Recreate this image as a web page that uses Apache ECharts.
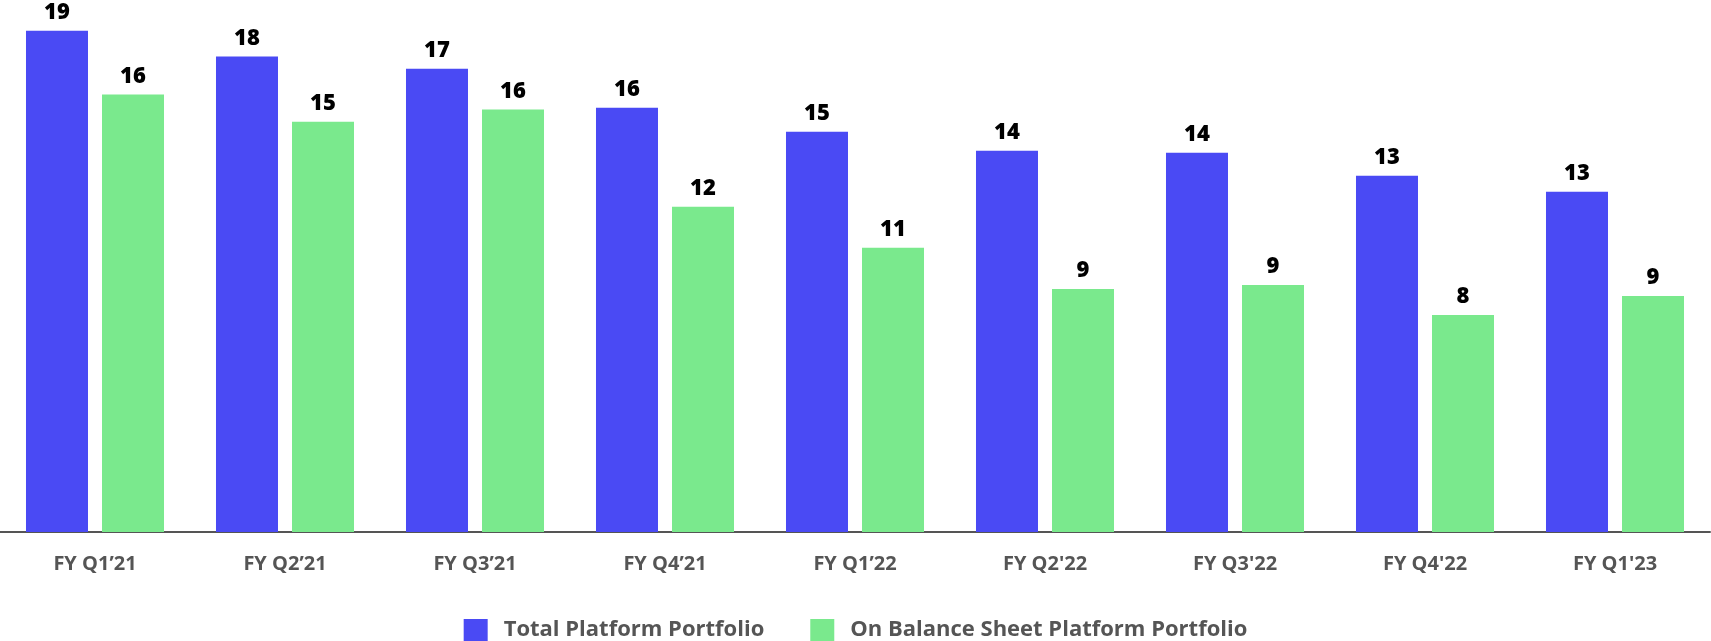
<!DOCTYPE html>
<html>
<head>
<meta charset="utf-8">
<script src="https://cdn.jsdelivr.net/npm/echarts@6/dist/echarts.min.js"></script>
<style>
html,body{margin:0;padding:0;background:#fff;}
#chart{width:1711px;height:641px;}
</style>
</head>
<body>
<div id="chart"></div>
<script>
const categories = ["FY Q1\u201921","FY Q2\u201921","FY Q3\u201921","FY Q4\u201921","FY Q1\u201922","FY Q2'22","FY Q3'22","FY Q4'22","FY Q1'23"];
const totalPlatform = [18.73, 17.76, 17.31, 15.85, 14.95, 14.24, 14.17, 13.31, 12.71];
const onBalanceSheet = [16.34, 15.33, 15.78, 12.15, 10.62, 9.08, 9.23, 8.11, 8.82];
const seriesNames = ["Total Platform Portfolio", "On Balance Sheet Platform Portfolio"];

const FONT = "'Open Sans', Lato, sans-serif";
const chart = echarts.init(document.getElementById('chart'), null, {renderer:'canvas'});
const labelCfg = {
  show: true,
  position: 'top',
  distance: 7,
  color: '#000',
  fontFamily: FONT,
  fontWeight: 800,
  fontSize: 22,
  formatter: p => Math.round(p.value)
};
chart.setOption({
  animation: false,
  grid: {left: 0, right: 1, top: 2, bottom: 109, containLabel: false},
  legend: {
    data: seriesNames,
    left: 'center',
    top: 614,
    itemWidth: 24,
    itemHeight: 22,
    itemGap: 46,
    icon: 'rect',
    textStyle: {color: '#555', fontFamily: FONT, fontWeight: 700, fontSize: 22, padding: [0,0,0,11]}
  },
  xAxis: {
    type: 'category',
    data: categories,
    axisLine: {show: true, lineStyle: {color: '#555', width: 2}},
    axisTick: {show: false},
    axisLabel: {color: '#555', fontFamily: FONT, fontWeight: 700, fontSize: 20, margin: 22}
  },
  yAxis: {
    type: 'value',
    min: 0,
    max: 19.8,
    show: false,
    splitLine: {show: false}
  },
  series: [
    {name: seriesNames[0], type: 'bar', data: totalPlatform, barWidth: 62, barGap: '22.6%',
     itemStyle: {color: '#4a4af4'}, label: labelCfg},
    {name: seriesNames[1], type: 'bar', data: onBalanceSheet, barWidth: 62, barGap: '22.6%',
     itemStyle: {color: '#7ae98d'}, label: labelCfg}
  ]
});
</script>
</body>
</html>
